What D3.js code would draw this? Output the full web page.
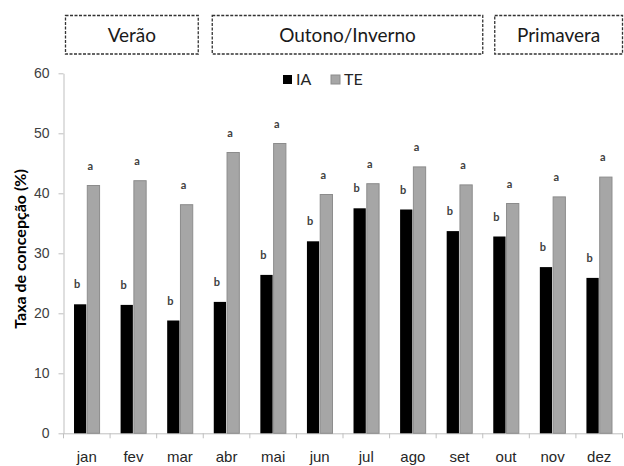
<!DOCTYPE html>
<html><head><meta charset="utf-8">
<script src="https://cdn.jsdelivr.net/npm/d3@7"></script>
<style>
body{margin:0;background:#fff;}
svg{display:block;font-family:Lato, "Open Sans", sans-serif;}
</style></head>
<body>
<svg id="c" width="624" height="466"></svg>
<script>
const months = ["jan","fev","mar","abr","mai","jun","jul","ago","set","out","nov","dez"];
const seriesNames = ["IA","TE"];
const iaValues = [21.5,21.4,18.8,21.9,26.4,32.0,37.5,37.3,33.7,32.8,27.7,25.9];
const teValues = [41.3,42.1,38.1,46.8,48.3,39.8,41.6,44.4,41.4,38.3,39.4,42.7];
const iaLetters = ["b","b","b","b","b","b","b","b","b","b","b","b"];
const teLetters = ["a","a","a","a","a","a","a","a","a","a","a","a"];
const yTicks = [0,10,20,30,40,50,60];
const seasons = [
  {name:"Verão", from:"jan", to:"mar"},
  {name:"Outono/Inverno", from:"abr", to:"set"},
  {name:"Primavera", from:"out", to:"dez"}
];
const colors = {IA:"#000000", TE:"#a6a6a6"};

const svg = d3.select("#c");
const pLeft = 63.5, pRight = 622.5, pTop = 73.3, pBottom = 433.3;

const x = d3.scaleBand().domain(months).range([pLeft,pRight]).paddingInner(0.43).paddingOuter(0.215);
const xs = d3.scaleBand().domain(seriesNames).range([0,x.bandwidth()]);
const y = d3.scaleLinear().domain([0,60]).range([pBottom,pTop]);
const step = x.step();
const bandStart = m => x(m) - x.paddingInner()*step/2;

// y axis
const yAxis = svg.append("g").attr("transform",`translate(${pLeft},0)`)
  .call(d3.axisLeft(y).tickValues(yTicks).tickSize(5).tickSizeOuter(0).tickPadding(9));
yAxis.select(".domain").attr("stroke","#bfbfbf");
yAxis.selectAll(".tick line").attr("stroke","#bfbfbf");
yAxis.selectAll(".tick text").attr("fill","#404040").attr("font-size","14px");

// x axis line
const xAxis = svg.append("g").attr("transform",`translate(0,${pBottom})`)
  .call(d3.axisBottom(x).tickSize(0).tickSizeOuter(0).tickPadding(18));
xAxis.select(".domain").attr("stroke","#bfbfbf");
xAxis.selectAll(".tick text").attr("fill","#262626").attr("font-size","15px");
svg.append("g").selectAll("line").data(months.concat(["__end"])).join("line")
  .attr("x1",(d,i)=> i<months.length ? bandStart(d) : pRight)
  .attr("x2",(d,i)=> i<months.length ? bandStart(d) : pRight)
  .attr("y1",pBottom).attr("y2",pBottom+5).attr("stroke","#bfbfbf");

// bars
const rows = months.map((m,i)=>({m, vals:[{s:"IA",v:iaValues[i],l:iaLetters[i]},{s:"TE",v:teValues[i],l:teLetters[i]}]}));
const g = svg.append("g").selectAll("g").data(rows).join("g").attr("transform",d=>`translate(${x(d.m)},0)`);
g.selectAll("rect").data(d=>d.vals).join("rect")
  .attr("x",d=>xs(d.s)+0.5).attr("width",xs.bandwidth()-1)
  .attr("y",d=>y(d.v)).attr("height",d=>pBottom-y(d.v))
  .attr("fill",d=>colors[d.s])
  .attr("stroke",d=>d.s==="TE"?"#8c8c8c":"none").attr("stroke-width",1);
g.selectAll("text").data(d=>d.vals).join("text")
  .attr("x",d=>xs(d.s)+xs.bandwidth()/2-3).attr("y",d=>y(d.v)-16)
  .attr("text-anchor","middle").attr("font-size","11px").attr("font-weight","bold")
  .attr("fill","#404040").text(d=>d.l);

// y title
svg.append("text").attr("transform",`translate(26,249) rotate(-90)`)
  .attr("text-anchor","middle").attr("font-size","16px").attr("font-weight","bold")
  .attr("fill","#000").text("Taxa de concepção (%)");

// legend
const lg = svg.append("g").attr("transform","translate(283,75)");
seriesNames.forEach((s,i)=>{
  const ox = i*48;
  lg.append("rect").attr("x",ox).attr("y",0).attr("width",9).attr("height",9)
    .attr("fill",colors[s]).attr("stroke",s==="TE"?"#8c8c8c":"none");
  lg.append("text").attr("x",ox+13).attr("y",10).attr("font-size","16px").attr("fill","#262626").text(s);
});

// season boxes
const insets = [[2,5],[9,0],[12,0]];
seasons.forEach((s,i)=>{
  const x0 = bandStart(s.from)+insets[i][0];
  const x1 = bandStart(s.to)+step-insets[i][1];
  svg.append("rect").attr("x",x0).attr("y",15.5).attr("width",x1-x0).attr("height",38.5)
    .attr("fill","none").attr("stroke","#333").attr("stroke-width",1.3).attr("stroke-dasharray","3,1.5");
  svg.append("text").attr("x",(x0+x1)/2).attr("y",42).attr("text-anchor","middle")
    .attr("font-size","19px").attr("fill","#1a1a1a").text(s.name);
});
</script>
</body></html>
